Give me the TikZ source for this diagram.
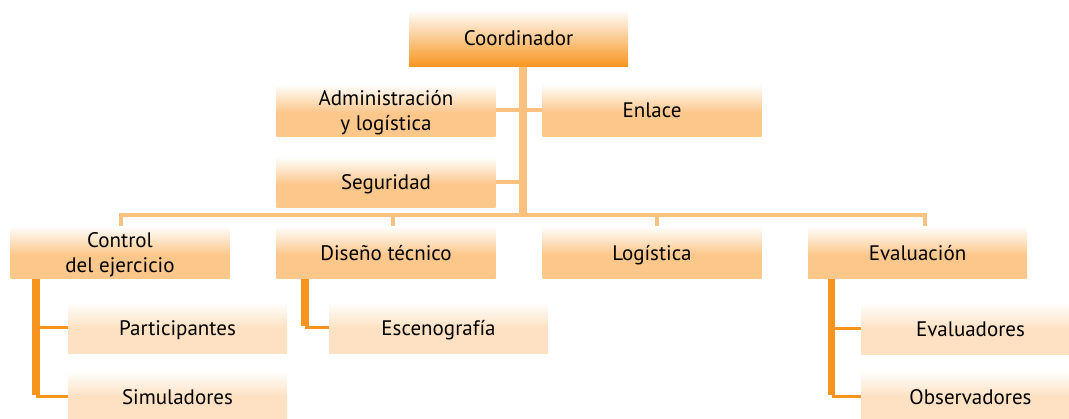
\documentclass[tikz,border=0pt]{standalone}
\usepackage{fontspec}
\setmainfont{PT Sans}
\definecolor{dk}{HTML}{F7941D}
\definecolor{lt}{HTML}{FBC27F}
\definecolor{lvl}{HTML}{FCC78B}
\definecolor{chl}{HTML}{FDE1C2}
\pgfdeclareverticalshading{topsh}{100bp}{color(0bp)=(dk); color(25bp)=(dk); color(75bp)=(white); color(100bp)=(white)}
\pgfdeclareverticalshading{lvlsh}{100bp}{color(0bp)=(lvl); color(25bp)=(lvl); color(48bp)=(lvl); color(75bp)=(white); color(100bp)=(white)}
\pgfdeclareverticalshading{chlsh}{100bp}{color(0bp)=(chl); color(25bp)=(chl); color(50bp)=(chl); color(75bp)=(white); color(100bp)=(white)}
\begin{document}
\begin{tikzpicture}[x=1pt,y=-1pt,
  box/.style={rectangle, inner sep=0pt, minimum width=219pt, minimum height=53pt, align=center, font=\fontsize{21}{25.5}\selectfont, text=black, text depth=0pt},
  topbox/.style={box, minimum height=57pt, shading=topsh},
  lvlbox/.style={box, shading=lvlsh},
  chlbox/.style={box, minimum height=52pt, shading=chlsh},
  ltline/.style={draw=lt, line width=4pt},
  trunk/.style={draw=lt, line width=7.5pt},
  dkline/.style={draw=dk, line width=7.5pt},
  dkbranch/.style={draw=dk, line width=3pt}]
\useasboundingbox (0,0) rectangle (1069,419);
% nodes
\node[topbox] (coord) at (518.5,38.5) {Coordinador};
\node[lvlbox] (admin) at (386,110.5) {Administración\\y logística};
\node[lvlbox] (enlace) at (652,110.5) {Enlace};
\node[lvlbox, minimum height=51pt] (seg) at (386,182.5) {Seguridad};
\node[lvlbox] (ctrl) at (120,252.5) {Control\\del ejercicio};
\node[lvlbox] (dis) at (386,252.5) {Diseño técnico};
\node[lvlbox] (log) at (652,252.5) {Logística};
\node[lvlbox] (eval) at (917.5,252.5) {Evaluación};
\node[chlbox] (part) at (177.5,328) {Participantes};
\node[chlbox] (sim) at (177.5,397) {Simuladores};
\node[chlbox] (esc) at (438.5,328) {Escenografía};
\node[chlbox] (evs) at (970.5,329) {Evaluadores};
\node[chlbox] (obs) at (970.5,397) {Observadores};
% coordinates
\coordinate (ttop) at (523,67);
\coordinate (busM) at (523,215.5);
\coordinate (busL) at (120.5,215.5);
\coordinate (busR) at (924.5,215.5);
\coordinate (d2) at (392.5,215.5);
\coordinate (d3) at (657,215.5);
\coordinate (cv) at (36,280);
\coordinate (dv) at (305,280);
\coordinate (ev) at (831.5,280);
% connectors
\draw[trunk] (ttop) -- (busM);
\draw[ltline] (admin.east) -- (admin.east -| ttop);
\draw[ltline] (enlace.west) -- (enlace.west -| ttop);
\draw[ltline] (seg.east) -- (seg.east -| ttop);
\draw[ltline] ([xshift=-2pt]busL) -- ([xshift=2pt]busR);
\draw[ltline] (busL) -- (ctrl.north -| busL);
\draw[ltline] (d2) -- (dis.north -| d2);
\draw[ltline] (d3) -- (log.north -| d3);
\draw[ltline] (busR) -- (eval.north -| busR);
\draw[dkline] (ctrl.south -| cv) -- ([yshift=1.5pt]sim.west -| cv);
\draw[dkbranch] (part.west -| cv) -- (part.west);
\draw[dkbranch] (sim.west -| cv) -- (sim.west);
\draw[dkline] (dis.south -| dv) -- ([yshift=1.5pt]esc.west -| dv);
\draw[dkbranch] (esc.west -| dv) -- (esc.west);
\draw[dkline] (eval.south -| ev) -- ([yshift=1.5pt]obs.west -| ev);
\draw[dkbranch] (evs.west -| ev) -- (evs.west);
\draw[dkbranch] (obs.west -| ev) -- (obs.west);
\end{tikzpicture}
\end{document}
